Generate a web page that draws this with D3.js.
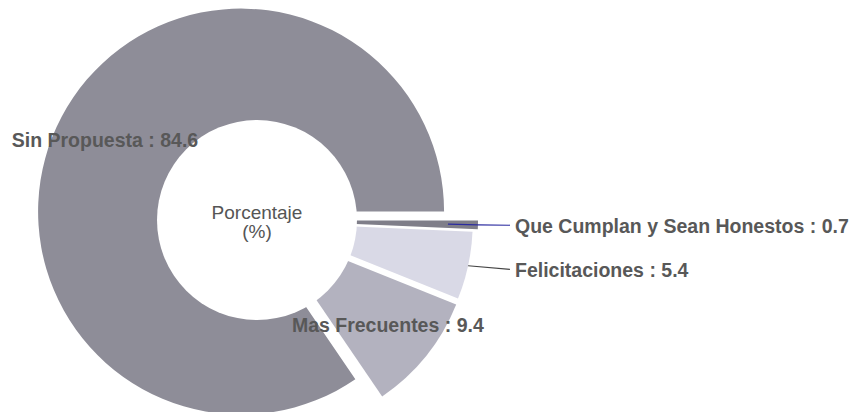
<!DOCTYPE html>
<html>
<head>
<meta charset="utf-8">
<script src="https://cdn.jsdelivr.net/npm/d3@7"></script>
<style>
  body { margin: 0; background: #fff; }
  svg text { font-family: "Liberation Sans", Arial, sans-serif; }
  .lbl { font-weight: bold; font-size: 19.5px; fill: #585858; }
  .center { font-size: 19px; fill: #555; }
</style>
</head>
<body>
<div id="chart"></div>
<script>
// data
var categories = ["Que Cumplan y Sean Honestos", "Felicitaciones", "Mas Frecuentes", "Sin Propuesta"];
var values = [0.7, 5.4, 9.4, 84.6];
var sliceColors = ["#7f7e89", "#d9d9e6", "#b3b2bf", "#8e8d98"];
var explode = [18, 13, 14, 18];          // px, slice pulled out along its mid angle
var labelOutside = [true, true, false, false];
var leaderColors = ["#2b2ba0", "#444444"];

var W = 852, H = 412;
var CX = 257, CY = 220;
var R = 203, HOLE = 100;
var LABEL_R = 154;        // inside labels
var LEADER_X = CX + 253;  // where outside leaders end

var svg = d3.select("#chart").append("svg")
    .attr("width", W)
    .attr("height", H);

svg.append("rect").attr("width", W).attr("height", H).attr("fill", "#fff");

var rows = categories.map(function (c, i) {
    return { name: c, value: values[i], color: sliceColors[i], off: explode[i], outside: labelOutside[i] };
});

// start at 3 o'clock, clockwise
var pie = d3.pie()
    .sort(null)
    .value(function (d) { return d.value; })
    .startAngle(Math.PI / 2)
    .endAngle(Math.PI / 2 + 2 * Math.PI);

var arcs = pie(rows);

var arc = d3.arc().innerRadius(0).outerRadius(R);

function midAngle(a) { return (a.startAngle + a.endAngle) / 2; }
function sliceCenter(a) {
    var m = midAngle(a);
    return [CX + a.data.off * Math.sin(m), CY - a.data.off * Math.cos(m)];
}

var g = svg.append("g");

g.selectAll("path.slice")
    .data(arcs)
  .enter().append("path")
    .attr("class", "slice")
    .attr("transform", function (a) { return "translate(" + sliceCenter(a) + ")"; })
    .attr("d", arc)
    .attr("fill", function (a) { return a.data.color; });

// the hole is a plain white disc on the real centre
g.append("circle")
    .attr("cx", CX)
    .attr("cy", CY)
    .attr("r", HOLE)
    .attr("fill", "#fff");

g.append("text")
    .attr("class", "center")
    .attr("text-anchor", "middle")
    .attr("x", CX)
    .attr("y", CY - 1)
    .text("Porcentaje");
g.append("text")
    .attr("class", "center")
    .attr("text-anchor", "middle")
    .attr("x", CX)
    .attr("y", CY + 18)
    .text("(%)");

// outside labels with leader lines
var outer = arcs.filter(function (a) { return a.data.outside; });
outer.forEach(function (a, i) {
    var c = sliceCenter(a), m = midAngle(a);
    var x0 = c[0] + (R - 30) * Math.sin(m), y0 = c[1] - (R - 30) * Math.cos(m);
    var x1 = c[0] + R * Math.sin(m), y1 = c[1] - R * Math.cos(m);
    var y2 = y1 + (y1 - CY) * 0.08;
    g.append("path")
        .attr("d", d3.line()([[i == 0 ? x0 : x1, y0 + (i == 0 ? 0 : y1 - y0)], [x1, y1], [LEADER_X, y2]]))
        .attr("fill", "none")
        .attr("stroke", leaderColors[i])
        .attr("stroke-width", 1.2);
    g.append("text")
        .attr("class", "lbl")
        .attr("x", LEADER_X + 5)
        .attr("y", y2 + 7.5)
        .text(a.data.name + " : " + a.data.value);
});

// inside labels
g.selectAll("text.inlbl")
    .data(arcs.filter(function (a) { return !a.data.outside; }))
  .enter().append("text")
    .attr("class", "lbl inlbl")
    .attr("text-anchor", "middle")
    .attr("x", function (a) { return sliceCenter(a)[0] + LABEL_R * Math.sin(midAngle(a)); })
    .attr("y", function (a) { return sliceCenter(a)[1] - LABEL_R * Math.cos(midAngle(a)) + 7; })
    .text(function (a) { return a.data.name + " : " + a.data.value; });
</script>
</body>
</html>
